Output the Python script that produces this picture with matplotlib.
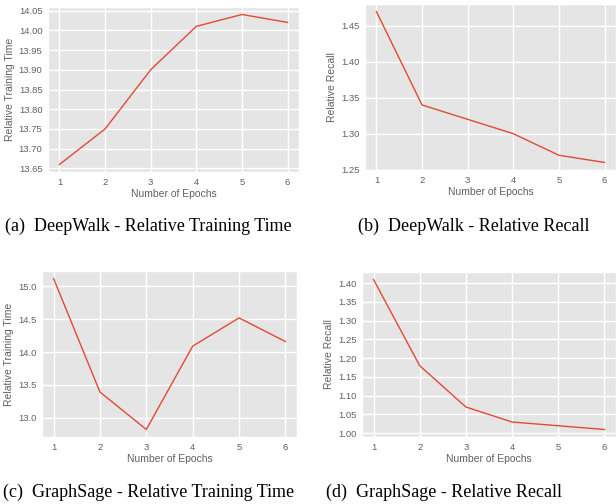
import matplotlib
matplotlib.use("Agg")
import matplotlib.pyplot as plt

plt.style.use("ggplot")
plt.rcParams["font.family"] = ["Liberation Sans", "DejaVu Sans"]

epochs = [1, 2, 3, 4, 5, 6]
dw_time = [13.66, 13.75, 13.90, 14.01, 14.04, 14.02]
dw_recall = [1.47, 1.34, 1.32, 1.30, 1.27, 1.26]
gs_time = [15.12, 13.39, 12.82, 14.09, 14.52, 14.16]
gs_recall = [1.41, 1.18, 1.07, 1.03, 1.02, 1.01]

dw_time_ticks = [13.65, 13.70, 13.75, 13.80, 13.85, 13.90, 13.95, 14.00, 14.05]
dw_recall_ticks = [1.25, 1.30, 1.35, 1.40, 1.45]
gs_time_ticks = [13.0, 13.5, 14.0, 14.5, 15.0]
gs_recall_ticks = [1.00, 1.05, 1.10, 1.15, 1.20, 1.25, 1.30, 1.35, 1.40]

captions = ["(a)  DeepWalk - Relative Training Time",
            "(b)  DeepWalk - Relative Recall",
            "(c)  GraphSage - Relative Training Time",
            "(d)  GraphSage - Relative Recall"]

W, H = 616, 504
fig = plt.figure(figsize=(W / 100, H / 100), dpi=100)

def rect(l, t, r, b):
    return [l / W, 1 - b / H, (r - l) / W, (b - t) / H]

panels = [
    (rect(48, 7, 299, 172), dw_time, "Relative Training Time", "{:.2f}", dw_time_ticks),
    (rect(365, 4, 616, 170), dw_recall, "Relative Recall", "{:.2f}", dw_recall_ticks),
    (rect(42, 271, 297, 437), gs_time, "Relative Training Time", "{:.1f}", gs_time_ticks),
    (rect(362, 272, 616, 437), gs_recall, "Relative Recall", "{:.2f}", gs_recall_ticks),
]

for pos, vals, ylab, fmt, yt in panels:
    ax = fig.add_axes(pos)
    ax.plot(epochs, vals, color="#E24A33", linewidth=1.0)
    ax.set_xticks(epochs)
    ax.set_xlabel("Number of Epochs", fontsize=7.5, color="#606060", labelpad=2)
    ax.set_ylabel(ylab, fontsize=7.5, color="#606060", labelpad=3)
    ax.set_yticks(yt)
    ax.set_yticklabels([fmt.format(v) for v in yt])
    ax.tick_params(labelsize=6.8, colors="#606060", length=0, pad=4)
    ax.grid(True, color="white", linewidth=1.0)

cap_pos = [(5, 226), (358, 226), (3, 492), (326, 492)]
for (x, y), c in zip(cap_pos, captions):
    fig.text(x / W, 1 - y / H, c, fontsize=13.0, family="Liberation Serif",
             va="center", ha="left", color="black")

fig.savefig("out.png", dpi=100)
